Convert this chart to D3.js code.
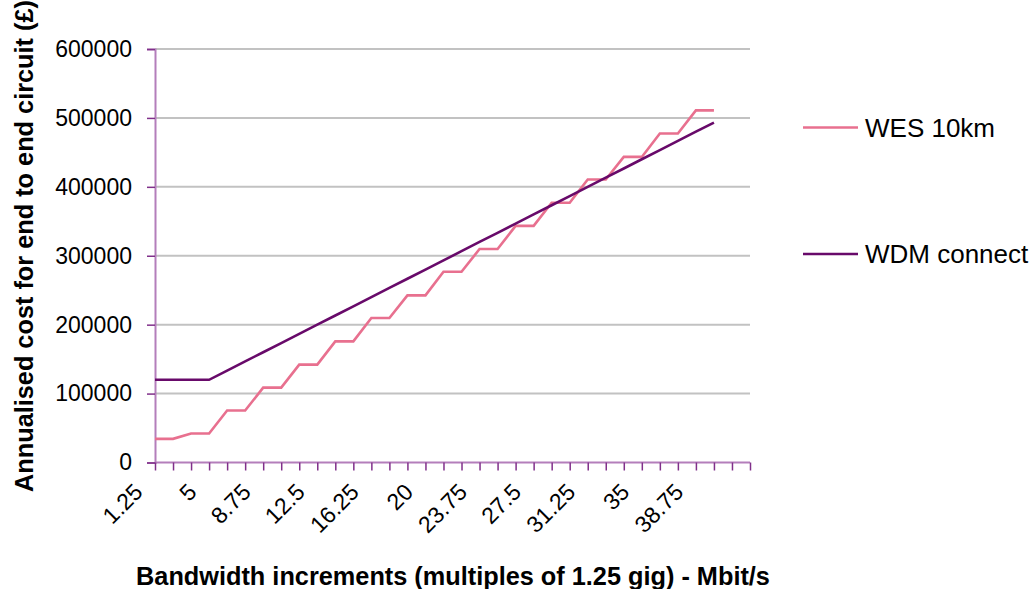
<!DOCTYPE html>
<html>
<head>
<meta charset="utf-8">
<script src="https://cdn.jsdelivr.net/npm/d3@7"></script>
<style>
  html, body { margin: 0; padding: 0; background: #ffffff; }
  svg { display: block; font-family: Arial, "Liberation Sans", sans-serif; }
</style>
</head>
<body>
<svg id="chart" width="1035" height="589"></svg>
<script>
// Bandwidth categories (multiples of 1.25)
const categories = [1.25, 2.5, 3.75, 5, 6.25, 7.5, 8.75, 10, 11.25, 12.5, 13.75, 15,
  16.25, 17.5, 18.75, 20, 21.25, 22.5, 23.75, 25, 26.25, 27.5, 28.75, 30,
  31.25, 32.5, 33.75, 35, 36.25, 37.5, 38.75, 40, 41.25, 42.5];

// Labelled categories on the x axis
const tickLabels = ["1.25", "5", "8.75", "12.5", "16.25", "20", "23.75", "27.5", "31.25", "35", "38.75"];

// Annualised cost series (£)
const wesValues = [34300, 34300, 42000, 42000, 75400, 75400, 108700, 108700,
  142000, 142000, 175800, 175800, 209700, 209700, 242500, 242500,
  276800, 276800, 309700, 309700, 343300, 343300, 376800, 376800,
  410700, 410700, 443400, 443400, 477300, 477300, 510900, 510900];

const wdmValues = [120000, 120000, 120000, 120000, 133300, 146700, 160000, 173300,
  186600, 200000, 213300, 226600, 240000, 253300, 266600, 280000,
  293300, 306600, 320000, 333300, 346600, 360000, 373300, 386600,
  400000, 413300, 426600, 440000, 453300, 466600, 480000, 493300];

const yTicks = [0, 100000, 200000, 300000, 400000, 500000, 600000];

const seriesNames = ["WES 10km", "WDM connect"];
const seriesColors = ["#e8708f", "#680a6a"];

const svg = d3.select("#chart");

const x = d3.scalePoint().domain(categories).range([155, 750]);
const y = d3.scaleLinear().domain([0, 600000]).range([462.5, 49]);

// Horizontal gridlines
svg.append("g").selectAll("line")
  .data(yTicks.filter(d => d > 0))
  .join("line")
  .attr("x1", 155).attr("x2", 750)
  .attr("y1", d => y(d)).attr("y2", d => y(d))
  .attr("stroke", "#c2c2c2").attr("stroke-width", 2);

// Y axis
const yAxis = svg.append("g").attr("transform", "translate(155,0)")
  .call(d3.axisLeft(y).tickValues(yTicks).tickSize(8).tickPadding(15).tickFormat(d3.format("d")));
yAxis.select(".domain").attr("stroke", "#b47ebb").attr("stroke-width", 2);
yAxis.selectAll(".tick line").attr("stroke", "#80308a").attr("stroke-width", 1.5);
yAxis.selectAll(".tick text").attr("fill", "#000").style("font-size", "23px")
  .attr("font-family", "Arial, 'Liberation Sans', sans-serif");

// X axis
const xAxis = svg.append("g").attr("transform", `translate(0,${y(0)})`)
  .call(d3.axisBottom(x).tickSize(8).tickFormat(() => ""));
xAxis.select(".domain").attr("stroke", "#b47ebb").attr("stroke-width", 2)
  .attr("d", `M155,0H750`);
xAxis.selectAll(".tick line").attr("stroke", "#80308a").attr("stroke-width", 1.5);

// Rotated category labels
svg.append("g").selectAll("text")
  .data(tickLabels)
  .join("text")
  .attr("transform", d => `translate(${x(+d) - 11},${y(0) + 31}) rotate(-45)`)
  .attr("text-anchor", "end")
  .style("font-size", "23px")
  .attr("fill", "#000")
  .text(d => d);

// Series lines
const line = d3.line()
  .x((d, i) => x(categories[i]))
  .y(d => y(d));

[wesValues, wdmValues].forEach((vals, i) => {
  svg.append("path")
    .datum(vals)
    .attr("d", line)
    .attr("fill", "none")
    .attr("stroke", seriesColors[i])
    .attr("stroke-width", 2.6)
    .attr("stroke-linejoin", "miter");
});

// Legend
const legendY = [127.5, 254];
const legend = svg.append("g").selectAll("g")
  .data(seriesNames)
  .join("g")
  .attr("transform", (d, i) => `translate(803,${legendY[i]})`);
legend.append("line")
  .attr("x1", 0).attr("x2", 55)
  .attr("stroke", (d, i) => seriesColors[i])
  .attr("stroke-width", 2.6);
legend.append("text")
  .attr("x", 62).attr("y", 9)
  .style("font-size", "26px")
  .attr("fill", "#000")
  .text(d => d);

// Axis titles
svg.append("text")
  .attr("x", 453).attr("y", 585)
  .attr("text-anchor", "middle")
  .style("font-size", "25.3px").style("font-weight", "bold")
  .attr("fill", "#000")
  .text("Bandwidth increments (multiples of 1.25 gig) - Mbit/s");

svg.append("text")
  .attr("transform", "translate(33,492) rotate(-90)")
  .attr("text-anchor", "start")
  .style("font-size", "25.3px").style("font-weight", "bold")
  .attr("fill", "#000")
  .text("Annualised cost for end to end circuit (£)");
</script>
</body>
</html>
